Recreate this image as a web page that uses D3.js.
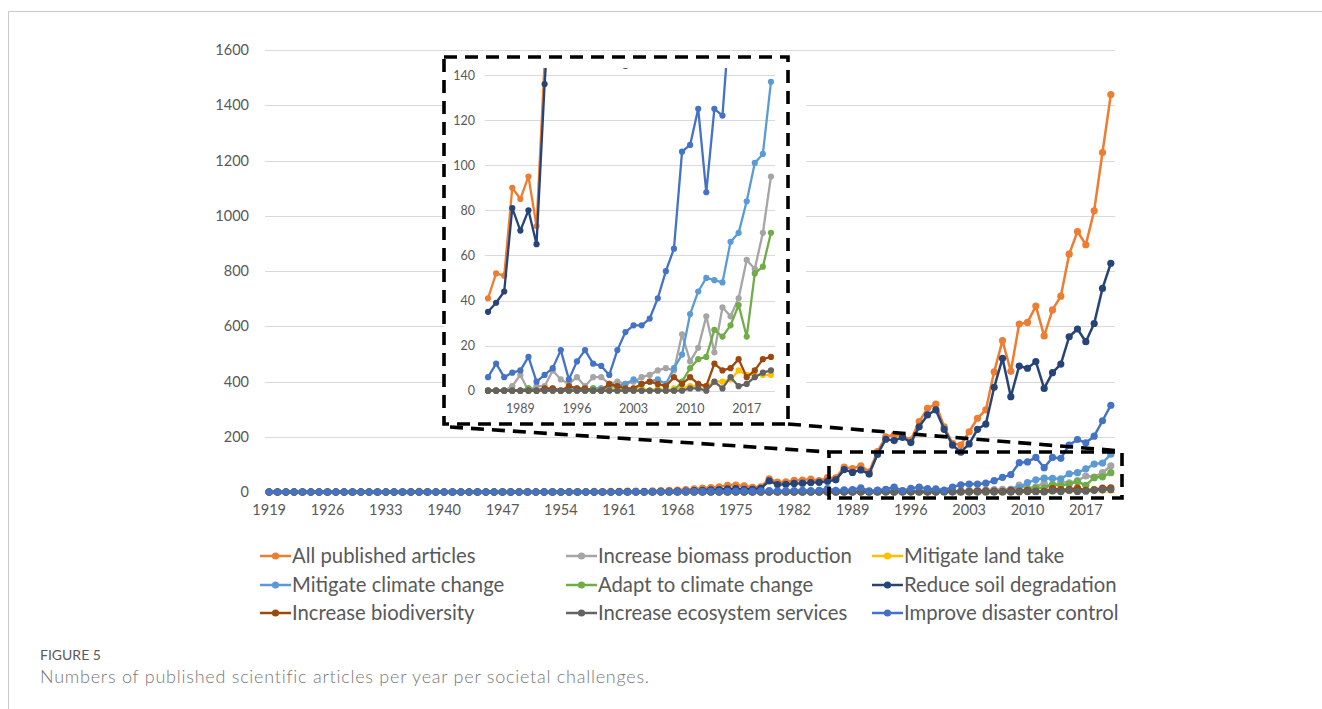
<!DOCTYPE html>
<html>
<head>
<meta charset="utf-8">
<script src="https://cdn.jsdelivr.net/npm/d3@7"></script>
<style>
  html, body { margin: 0; padding: 0; background: #fff; }
  svg { display: block; }
  text { font-family: Lato, "Open Sans", sans-serif; }
</style>
</head>
<body>
<svg id="chart" width="1322" height="709"></svg>
<script>
// ---------- DATA ----------
const years = [
1919,1920,1921,1922,1923,1924,1925,1926,1927,1928,1929,
1930,1931,1932,1933,1934,1935,1936,1937,1938,1939,
1940,1941,1942,1943,1944,1945,1946,1947,1948,1949,
1950,1951,1952,1953,1954,1955,1956,1957,1958,1959,
1960,1961,1962,1963,1964,1965,1966,1967,1968,1969,
1970,1971,1972,1973,1974,1975,1976,1977,1978,1979,
1980,1981,1982,1983,1984,1985,1986,1987,1988,1989,
1990,1991,1992,1993,1994,1995,1996,1997,1998,1999,
2000,2001,2002,2003,2004,2005,2006,2007,2008,2009,
2010,2011,2012,2013,2014,2015,2016,2017,2018,2019,2020];

const insetYears = [1985,1986,1987,1988,1989,1990,1991,1992,1993,1994,1995,1996,
1997,1998,1999,2000,2001,2002,2003,2004,2005,2006,2007,2008,2009,2010,2011,2012,
2013,2014,2015,2016,2017,2018,2019,2020];

const seriesNames = ["All published articles","Increase biomass production","Mitigate land take",
"Mitigate climate change","Adapt to climate change","Reduce soil degradation",
"Increase biodiversity","Increase ecosystem services","Improve disaster control"];

const seriesColors = ["#ED7D31","#A5A5A5","#FFC000","#5B9BD5","#70AD47","#264478","#9E480E","#636363","#4472C4"];

const allArticles = [
0,0,0,0,0,0,0,0,0,0,0,
0,0,0,0,0,0,1,2,1,0,
0,0,0,0,1,0,0,1,0,1,
1,0,1,1,0,1,1,1,2,1,
2,2,3,3,2,4,5,6,7,9,
11,14,16,19,24,25,22,17,19,48,
36,37,42,43,47,41,52,51,90,85,
95,73,146,200,206,203,188,255,303,318,
236,176,170,218,267,297,435,548,437,608,
614,673,565,659,709,861,943,895,1018,1229,1439];

const biomass = [
0,0,0,0,0,0,0,0,0,0,0,
0,0,0,0,0,0,0,0,0,0,
0,0,0,0,0,0,0,0,0,0,
0,0,0,0,0,0,0,0,0,0,
0,0,0,0,0,0,0,0,0,0,
0,0,0,0,0,0,0,0,0,0,
0,0,0,0,0,0,0,0,2,7,
0,2,2,9,5,3,6,2,6,6,
3,4,3,4,6,7,9,10,9,25,
13,19,33,17,37,33,41,58,54,70,95];

const landTake = [
0,0,0,0,0,0,0,0,0,0,0,
0,0,0,0,0,0,0,0,0,0,
0,0,0,0,0,0,0,0,0,0,
0,0,0,0,0,0,0,0,0,0,
0,0,0,0,0,0,0,0,0,0,
0,0,0,0,0,0,0,0,0,0,
0,0,0,0,0,0,0,0,0,0,
0,0,0,0,0,0,0,0,0,1,
1,1,0,1,1,0,1,0,1,1,
2,2,2,4,4,5,9,7,7,7,7];

const climateMitigation = [
0,0,0,0,0,0,0,0,0,0,0,
0,0,0,0,0,0,0,0,0,0,
0,0,0,0,0,0,0,0,0,0,
0,0,0,0,0,0,0,0,0,0,
0,0,0,0,0,0,0,0,0,0,
0,0,0,0,0,0,0,0,0,0,
0,0,0,0,0,0,0,0,0,0,
1,0,0,1,0,0,1,0,1,1,
2,2,3,5,3,4,5,3,10,16,
34,44,50,49,48,66,70,84,101,105,137];

const climateAdaptation = [
0,0,0,0,0,0,0,0,0,0,0,
0,0,0,0,0,0,0,0,0,0,
0,0,0,0,0,0,0,0,0,0,
0,0,0,0,0,0,0,0,0,0,
0,0,0,0,0,0,0,0,0,0,
0,0,0,0,0,0,0,0,0,0,
0,0,0,0,0,0,0,0,0,0,
1,0,0,0,0,0,0,0,1,0,
0,0,0,0,0,0,0,0,0,4,
10,14,15,27,24,29,38,24,52,55,70];

const soilDegradation = [
0,0,0,0,0,0,0,0,0,0,0,
0,0,0,0,0,0,0,0,0,0,
0,0,0,0,0,0,0,0,0,0,
0,0,0,0,0,0,0,0,0,0,
0,1,1,1,1,1,2,2,3,3,
5,6,8,9,11,12,10,10,13,40,
27,28,31,32,34,35,39,44,81,71,
80,65,136,191,186,198,179,236,279,297,
227,170,144,174,227,246,379,484,345,456,
448,472,375,432,463,562,590,544,610,737,828];

const biodiversity = [
0,0,0,0,0,0,0,0,0,0,0,
0,0,0,0,0,0,0,0,0,0,
0,0,0,0,0,0,0,0,0,0,
0,0,0,0,0,0,0,0,0,0,
0,0,0,0,0,0,0,0,0,0,
0,0,0,0,0,0,0,0,0,0,
0,0,0,0,0,0,0,0,0,0,
0,0,1,1,0,2,1,1,0,0,
3,2,1,1,3,4,3,2,6,3,
6,3,2,12,9,10,14,6,9,14,15];

const ecosystemServices = [
0,0,0,0,0,0,0,0,0,0,0,
0,0,0,0,0,0,0,0,0,0,
0,0,0,0,0,0,0,0,0,0,
0,0,0,0,0,0,0,0,0,0,
0,0,0,0,0,0,0,0,0,0,
0,0,0,0,0,0,0,0,0,0,
0,0,0,0,0,0,0,0,0,0,
0,0,0,0,0,0,0,0,0,0,
0,0,0,0,0,0,0,0,0,0,
1,1,0,4,1,6,2,3,6,8,9];

const disasterControl = [
0,0,0,0,0,0,0,0,0,0,0,
0,0,0,0,0,0,0,0,0,0,
0,0,0,0,0,0,0,0,0,0,
0,0,0,0,0,0,0,0,0,0,
0,0,0,1,0,1,1,1,1,2,
2,2,3,2,3,3,4,3,4,5,
4,5,5,6,5,6,12,6,8,9,
15,4,7,10,18,5,13,18,12,11,
7,18,26,29,29,32,41,53,63,106,
109,125,88,125,122,170,190,178,202,258,314];

const seriesValues = [allArticles, biomass, landTake, climateMitigation, climateAdaptation,
  soilDegradation, biodiversity, ecosystemServices, disasterControl];

const mainYTicks = [0,200,400,600,800,1000,1200,1400,1600];
const mainXTicks = [1919,1926,1933,1940,1947,1954,1961,1968,1975,1982,1989,1996,2003,2010,2017];
const insetYTicks = [0,20,40,60,80,100,120,140];
const insetXTicks = [1989,1996,2003,2010,2017];

const figureLabel = "FIGURE 5";
const captionText = "Numbers of published scientific articles per year per societal challenges.";

// ---------- DRAW ----------
const svg = d3.select("#chart");
const textColor = "#595959";
const gridColor = "#d9d9d9";

// figure border
svg.append("line").attr("x1", 8.5).attr("y1", 11.5).attr("x2", 1322).attr("y2", 11.5)
  .attr("stroke", "#c8c8c8").attr("stroke-width", 1);
svg.append("line").attr("x1", 8.5).attr("y1", 11.5).attr("x2", 8.5).attr("y2", 709)
  .attr("stroke", "#c8c8c8").attr("stroke-width", 1);

// main scales
const x = d3.scaleBand().domain(years).range([265, 1115]).padding(0);
const y = d3.scaleLinear().domain([0, 1600]).range([492, 50]);
const cx = d => x(d) + x.bandwidth() / 2;

const main = svg.append("g");
main.append("g").selectAll("line").data(mainYTicks).join("line")
  .attr("x1", 265).attr("x2", 1115)
  .attr("y1", d => Math.round(y(d)) + 0.5).attr("y2", d => Math.round(y(d)) + 0.5)
  .attr("stroke", gridColor).attr("stroke-width", 1);

const yAxis = d3.axisLeft(y).tickValues(mainYTicks).tickSize(0).tickPadding(0).tickFormat(d3.format("d"));
main.append("g").attr("transform", "translate(249,0)").call(yAxis)
  .call(g => g.select(".domain").remove())
  .selectAll("text").attr("font-size", "14.5px").attr("fill", textColor).attr("font-family", "Lato, sans-serif");

const xAxis = d3.axisBottom(x).tickValues(mainXTicks).tickSize(0).tickPadding(0);
main.append("g").attr("transform", "translate(0,505)").call(xAxis)
  .call(g => g.select(".domain").remove())
  .selectAll("text").attr("font-size", "14.5px").attr("fill", textColor).attr("font-family", "Lato, sans-serif");

const mainLine = d3.line().x((d, i) => cx(years[i])).y(d => y(d));
seriesValues.forEach((vals, s) => {
  const g = main.append("g");
  g.append("path").datum(vals).attr("d", mainLine).attr("fill", "none")
    .attr("stroke", seriesColors[s]).attr("stroke-width", 2.5).attr("stroke-linejoin", "round");
  g.selectAll("circle").data(vals).join("circle")
    .attr("cx", (d, i) => cx(years[i])).attr("cy", d => y(d)).attr("r", 3.6)
    .attr("fill", seriesColors[s]);
});

// ---------- INSET ----------
const dash = "13,8";
const dashW = 3.6;

svg.append("rect").attr("x", 444).attr("y", 56).attr("width", 362).attr("height", 369).attr("fill", "#fff");

const xi = d3.scaleBand().domain(insetYears).range([484, 775]).padding(0);
const yi = d3.scaleLinear().domain([0, 140]).range([390.7, 75]);
const cxi = d => xi(d) + xi.bandwidth() / 2;

const inset = svg.append("g");
inset.append("g").selectAll("line").data(insetYTicks).join("line")
  .attr("x1", 485).attr("x2", 775)
  .attr("y1", d => Math.round(yi(d)) + 0.5).attr("y2", d => Math.round(yi(d)) + 0.5)
  .attr("stroke", gridColor).attr("stroke-width", 1);

const yAxisI = d3.axisLeft(yi).tickValues(insetYTicks).tickSize(0).tickPadding(0);
inset.append("g").attr("transform", "translate(475,0)").call(yAxisI)
  .call(g => g.select(".domain").remove())
  .selectAll("text").attr("font-size", "12.5px").attr("fill", textColor).attr("font-family", "Lato, sans-serif");

const xAxisI = d3.axisBottom(xi).tickValues(insetXTicks).tickSize(0).tickPadding(0);
inset.append("g").attr("transform", "translate(0,404)").call(xAxisI)
  .call(g => g.select(".domain").remove())
  .selectAll("text").attr("font-size", "12.5px").attr("fill", textColor).attr("font-family", "Lato, sans-serif");

svg.append("defs").append("clipPath").attr("id", "insetClip")
  .append("rect").attr("x", 446).attr("y", 68).attr("width", 340).attr("height", 354);

const insetPlot = inset.append("g").attr("clip-path", "url(#insetClip)");
const startIdx = years.indexOf(insetYears[0]);
const insetLine = d3.line().x((d, i) => cxi(insetYears[i])).y(d => yi(d));
seriesValues.forEach((vals, s) => {
  const sub = vals.slice(startIdx);
  const g = insetPlot.append("g");
  g.append("path").datum(sub).attr("d", insetLine).attr("fill", "none")
    .attr("stroke", seriesColors[s]).attr("stroke-width", 2.3).attr("stroke-linejoin", "round");
  g.selectAll("circle").data(sub).join("circle")
    .attr("cx", (d, i) => cxi(insetYears[i])).attr("cy", d => yi(d)).attr("r", 3.1)
    .attr("fill", seriesColors[s]);
});

// inset frame
svg.append("rect").attr("x", 444).attr("y", 57).attr("width", 344).attr("height", 367)
  .attr("fill", "none").attr("stroke", "#000").attr("stroke-width", dashW).attr("stroke-dasharray", dash);

// zoom region frame in main chart
svg.append("rect").attr("x", 829).attr("y", 452).attr("width", 293).attr("height", 46)
  .attr("fill", "none").attr("stroke", "#000").attr("stroke-width", dashW).attr("stroke-dasharray", dash);

// connectors
svg.append("line").attr("x1", 450).attr("y1", 427).attr("x2", 829).attr("y2", 452)
  .attr("stroke", "#000").attr("stroke-width", dashW).attr("stroke-dasharray", dash);
svg.append("line").attr("x1", 788).attr("y1", 424).attr("x2", 1122).attr("y2", 451)
  .attr("stroke", "#000").attr("stroke-width", dashW).attr("stroke-dasharray", dash);

// ---------- LEGEND ----------
const legendCols = [260, 566, 872];
const legendRows = [556, 585, 613];
const legend = svg.append("g");
seriesNames.forEach((name, i) => {
  const lx = legendCols[i % 3], ly = legendRows[Math.floor(i / 3)];
  const g = legend.append("g").attr("transform", `translate(${lx},${ly})`);
  g.append("line").attr("x1", 0).attr("x2", 31).attr("y1", 0).attr("y2", 0)
    .attr("stroke", seriesColors[i]).attr("stroke-width", 2.5);
  g.append("circle").attr("cx", 15.5).attr("cy", 0).attr("r", 3.6).attr("fill", seriesColors[i]);
  g.append("text").attr("x", 32).attr("y", 0).attr("dy", "0.35em")
    .attr("font-size", "20.3px").attr("fill", textColor).text(name);
});

// ---------- CAPTION ----------
svg.append("text").attr("x", 40).attr("y", 660).attr("font-family", "'Open Sans', sans-serif")
  .attr("font-size", "14px").attr("fill", "#5a5a5a").text(figureLabel);
svg.append("text").attr("x", 40).attr("y", 683).attr("font-family", "'Open Sans', sans-serif")
  .attr("font-size", "18px").attr("letter-spacing", "0.75px").attr("font-weight", 300)
  .attr("fill", "#777").text(captionText);
</script>
</body>
</html>
